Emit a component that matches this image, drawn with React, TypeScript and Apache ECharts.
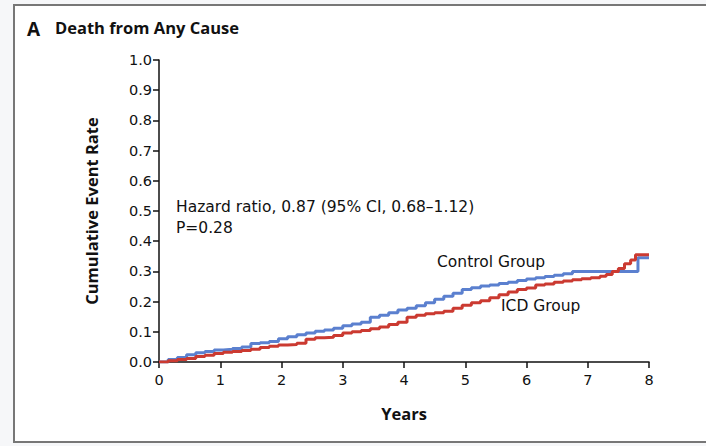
import React, { useEffect, useRef } from "react";
import * as echarts from "echarts";

// Kaplan-Meier estimates of cumulative event rate, by years of follow-up
const controlYears = [0, 0.15, 0.3, 0.45, 0.6, 0.75, 0.9, 1.05, 1.2, 1.35, 1.5, 1.65, 1.8, 1.95, 2.1, 2.25, 2.4, 2.55, 2.7, 2.85, 3.0, 3.15, 3.3, 3.45, 3.6, 3.75, 3.9, 4.05, 4.2, 4.35, 4.5, 4.65, 4.8, 4.95, 5.1, 5.25, 5.4, 5.55, 5.7, 5.85, 6.0, 6.15, 6.3, 6.45, 6.6, 6.75, 7.82, 8.0];
const controlRates = [0, 0.008, 0.015, 0.024, 0.031, 0.035, 0.04, 0.042, 0.045, 0.05, 0.061, 0.064, 0.068, 0.077, 0.084, 0.09, 0.096, 0.102, 0.106, 0.112, 0.12, 0.126, 0.132, 0.148, 0.155, 0.163, 0.172, 0.178, 0.186, 0.196, 0.208, 0.218, 0.228, 0.24, 0.246, 0.252, 0.255, 0.26, 0.264, 0.27, 0.275, 0.279, 0.283, 0.287, 0.292, 0.3, 0.345, 0.345];

const icdYears = [0, 0.15, 0.3, 0.45, 0.6, 0.75, 0.9, 1.05, 1.2, 1.35, 1.5, 1.65, 1.8, 1.95, 2.1, 2.25, 2.4, 2.55, 2.7, 2.85, 3.0, 3.15, 3.3, 3.45, 3.6, 3.75, 3.9, 4.05, 4.2, 4.35, 4.5, 4.65, 4.8, 4.95, 5.1, 5.25, 5.4, 5.55, 5.7, 5.85, 6.0, 6.15, 6.3, 6.45, 6.6, 6.75, 6.9, 7.05, 7.2, 7.3, 7.4, 7.5, 7.6, 7.7, 7.78, 8.0];
const icdRates = [0, 0.004, 0.008, 0.012, 0.018, 0.022, 0.028, 0.032, 0.035, 0.038, 0.042, 0.048, 0.052, 0.056, 0.058, 0.062, 0.075, 0.08, 0.082, 0.088, 0.096, 0.1, 0.104, 0.11, 0.116, 0.124, 0.132, 0.148, 0.155, 0.16, 0.163, 0.168, 0.178, 0.188, 0.196, 0.203, 0.213, 0.223, 0.232, 0.24, 0.245, 0.255, 0.258, 0.264, 0.268, 0.272, 0.276, 0.279, 0.284, 0.29, 0.3, 0.31, 0.325, 0.338, 0.355, 0.355];

const FONT = "'DejaVu Sans', 'Noto Sans', sans-serif";
const HEAD_FONT = "'Open Sans', 'Noto Sans', sans-serif";
const INK = "#111111";

export default function App() {
  const ref = useRef<HTMLDivElement>(null);

  useEffect(() => {
    document.body.style.margin = "0";
    const chart = echarts.init(ref.current!, undefined, { renderer: "svg" });

    const pairs = (xs: number[], ys: number[]) => xs.map((x, i) => [x, ys[i]]);

    chart.setOption({
      animation: false,
      backgroundColor: "#f6f7f9",
      textStyle: { fontFamily: FONT },
      grid: { left: 159, right: 57, top: 60, bottom: 84 },
      xAxis: {
        type: "value",
        min: 0,
        max: 8,
        interval: 1,
        name: "Years",
        nameLocation: "middle",
        nameGap: 43,
        nameTextStyle: { fontFamily: HEAD_FONT, fontWeight: "bold", fontSize: 16.5, color: INK },
        axisLine: { lineStyle: { color: INK, width: 1.5 } },
        axisTick: { length: 6, lineStyle: { color: INK, width: 1.5 } },
        axisLabel: { color: INK, fontSize: 14.5, margin: 10, fontFamily: FONT },
        splitLine: { show: false },
      },
      yAxis: {
        type: "value",
        min: 0,
        max: 1,
        interval: 0.1,
        name: "Cumulative Event Rate",
        nameLocation: "middle",
        nameGap: 59,
        nameTextStyle: { fontFamily: HEAD_FONT, fontWeight: "bold", fontSize: 16.5, color: INK },
        axisLine: { show: true, lineStyle: { color: INK, width: 1.5 } },
        axisTick: { show: true, length: 6, lineStyle: { color: INK, width: 1.5 } },
        axisLabel: {
          color: INK,
          fontSize: 14.5,
          margin: 7,
          fontFamily: FONT,
          formatter: (v: number) => v.toFixed(1),
        },
        splitLine: { show: false },
      },
      graphic: [
        {
          type: "rect",
          z: -10,
          silent: true,
          shape: { x: 14, y: 5, width: 720, height: 437 },
          style: { fill: "#ffffff", stroke: "#777777", lineWidth: 2 },
        },
        {
          type: "text",
          left: 27,
          top: 19,
          style: { text: "A", font: `bold 19px ${HEAD_FONT}`, fill: INK },
        },
        {
          type: "text",
          left: 55,
          top: 19,
          style: { text: "Death from Any Cause", font: `bold 16.5px ${HEAD_FONT}`, fill: INK },
        },
        {
          type: "text",
          left: 176,
          top: 196,
          style: {
            text: "Hazard ratio, 0.87 (95% CI, 0.68\u20131.12)\nP=0.28",
            font: `15.5px ${FONT}`,
            lineHeight: 21,
            fill: INK,
          },
        },
        {
          type: "text",
          left: 437,
          top: 254,
          style: { text: "Control Group", font: `15.5px ${FONT}`, fill: INK },
        },
        {
          type: "text",
          left: 501,
          top: 298,
          style: { text: "ICD Group", font: `15.5px ${FONT}`, fill: INK },
        },
      ],
      series: [
        {
          name: "Control Group",
          type: "line",
          step: "end",
          showSymbol: false,
          data: pairs(controlYears, controlRates),
          lineStyle: { color: "#5b80cf", width: 3 },
          z: 3,
        },
        {
          name: "ICD Group",
          type: "line",
          step: "end",
          showSymbol: false,
          data: pairs(icdYears, icdRates),
          lineStyle: { color: "#cb3a31", width: 3 },
          z: 4,
        },
      ],
    });

    return () => chart.dispose();
  }, []);

  return <div ref={ref} style={{ width: 706, height: 446 }} />;
}
